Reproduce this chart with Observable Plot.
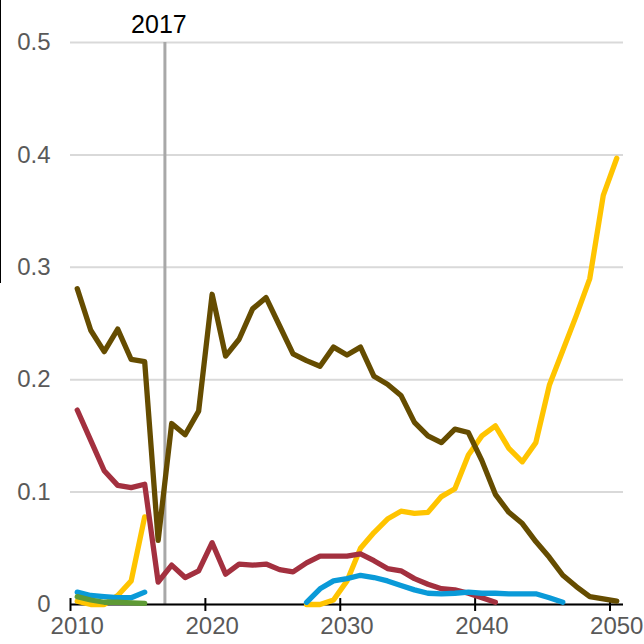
<!DOCTYPE html>
<html>
<head>
<meta charset="utf-8">
<script src="https://cdn.jsdelivr.net/npm/d3@7"></script>
<script src="https://cdn.jsdelivr.net/npm/@observablehq/plot@0.6"></script>
<style>
  html, body { margin: 0; padding: 0; background: #fff; }
  #wrap { position: relative; width: 644px; height: 644px; }
  #edge { position: absolute; left: 0; top: 0; width: 0; height: 283px; border-left: 1.5px solid #000; }
  svg { display: block; }
</style>
</head>
<body>
<div id="wrap"><div id="edge"></div></div>
<script>
const years = [2010,2011,2012,2013,2014,2015,2016,2017,2018,2019,2020,2021,2022,2023,2024,2025,2026,2027,2028,2029,2030,2031,2032,2033,2034,2035,2036,2037,2038,2039,2040,2041,2042,2043,2044,2045,2046,2047,2048,2049,2050];

const seriesA = [0.281,0.244,0.225,0.245,0.218,0.216,0.057,0.161,0.151,0.172,0.276,0.221,0.236,0.263,0.273,0.248,0.223,0.217,0.212,0.229,0.222,0.229,0.203,0.196,0.186,0.162,0.150,0.144,0.156,0.153,0.128,0.098,0.082,0.072,0.056,0.042,0.026,0.016,0.007,0.005,0.003];
const seriesB = [0.173,0.146,0.119,0.106,0.104,0.107,0.020,0.035,0.024,0.030,0.055,0.027,0.036,0.035,0.036,0.031,0.029,0.037,0.043,0.043,0.043,0.045,0.039,0.032,0.030,0.023,0.018,0.014,0.013,0.010,0.006,0.002,null,null,null,null,null,null,null,null,null];
const seriesC = [0.003,0.0,0.0,0.008,0.021,0.078,null,null,null,null,null,null,null,null,null,null,null,0.0,0.0,0.004,0.021,0.050,0.064,0.076,0.083,0.081,0.082,0.096,0.103,0.133,0.150,0.159,0.139,0.127,0.144,0.195,0.226,0.257,0.290,0.364,0.397];
const seriesD = [0.011,0.008,0.007,0.006,0.006,0.011,null,null,null,null,null,null,null,null,null,null,null,0.002,0.014,0.021,0.023,0.026,0.024,0.021,0.017,0.013,0.010,0.0095,0.010,0.011,0.010,0.010,0.0095,0.0095,0.0095,0.006,0.002,null,null,null,null];
const seriesE = [0.007,0.004,0.002,0.002,0.0015,0.001,null,null,null,null,null,null,null,null,null,null,null,null,null,null,null,null,null,null,null,null,null,null,null,null,null,null,null,null,null,null,null,null,null,null,null];

// drawing order: C (bottom) ... E (top)
const seriesNames = ["C","A","B","D","E"];
const seriesValues = [seriesC, seriesA, seriesB, seriesD, seriesE];
const seriesColors = ["#ffc400","#654c00","#a3303f","#0a9ad8","#5e9a35"];

const xTicks = [2010,2020,2030,2040,2050];
const yTicks = [0,0.1,0.2,0.3,0.4,0.5];
const markerYear = [2017];
const markerLabel = "2017";

const data = [];
seriesNames.forEach((name, s) => {
  years.forEach((yr, i) => {
    data.push({series: name, year: yr, value: seriesValues[s][i]});
  });
});

const font = "'Liberation Sans', Arial, sans-serif";
const yFmt = d => d === 0 ? "0" : d3.format(".1f")(d);

const chart = Plot.plot({
  width: 644,
  height: 644,
  marginLeft: 70,
  marginRight: 21,
  marginTop: 42,
  marginBottom: 40,
  style: {fontFamily: font, fontSize: "24px", background: "#fff"},
  x: {domain: [2010, 2051], axis: null},
  y: {domain: [0, 0.5], axis: null},
  color: {domain: seriesNames, range: seriesColors},
  marks: [
    Plot.gridY(yTicks, {stroke: "#d9d9d9", strokeOpacity: 1, strokeWidth: 2}),
    Plot.axisY(yTicks, {label: null, tickSize: 0, tickPadding: 20, fontSize: 24, fill: "#595959", tickFormat: yFmt}),
    Plot.ruleX(markerYear, {x: d => d, y1: 0, y2: 0.5, stroke: "#a8a8a8", strokeWidth: 3}),
    Plot.text(markerYear, {x: d => d, y: 0.5, text: () => markerLabel, dy: -18, dx: -6, fontSize: 25, fill: "#000"}),
    Plot.ruleY([0], {stroke: "#000", strokeWidth: 2}),
    Plot.ruleX(xTicks, {x: d => d, y1: -0.0062, y2: 0.0053, stroke: "#000", strokeWidth: 2}),
    Plot.text(xTicks, {x: d => d + 0.5, y: 0, text: d => String(d), lineAnchor: "top", dy: 12, fontSize: 24, fill: "#595959"}),
    Plot.line(data, {
      x: d => d.year + 0.5,
      y: "value",
      z: "series",
      stroke: "series",
      strokeWidth: 5.3,
      strokeLinejoin: "round",
      strokeLinecap: "round"
    })
  ]
});

document.getElementById("wrap").appendChild(chart);
</script>
</body>
</html>
